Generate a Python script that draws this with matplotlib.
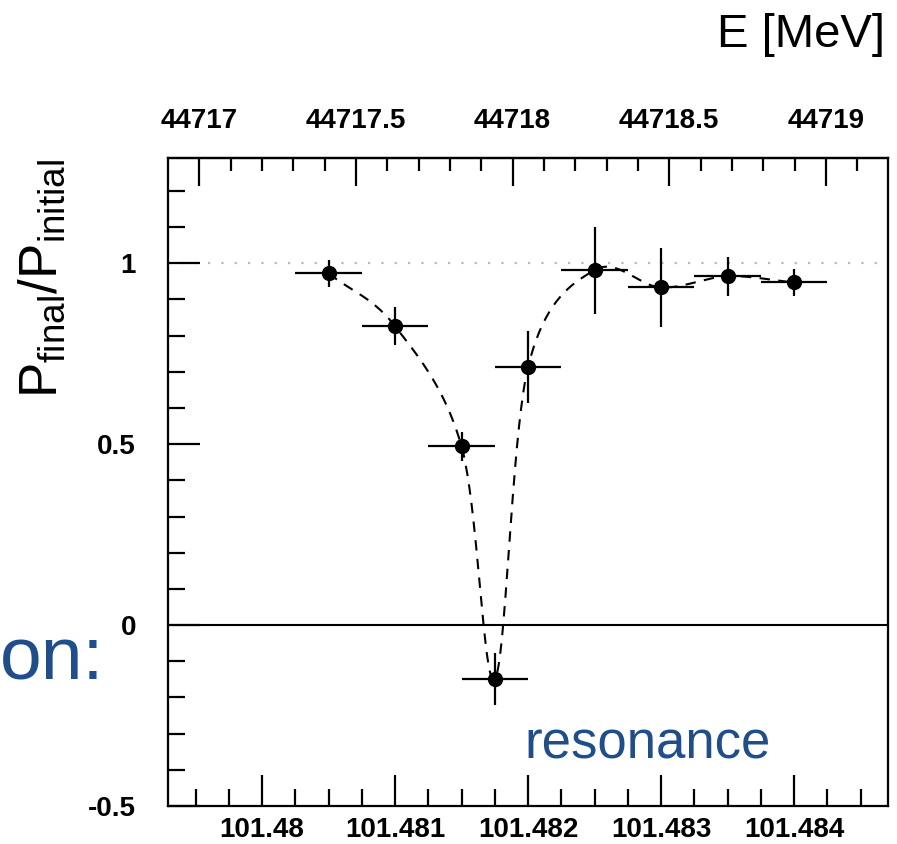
import numpy as np
import matplotlib
matplotlib.use('Agg')
import matplotlib.pyplot as plt
from matplotlib.ticker import MultipleLocator, FixedLocator, FuncFormatter

# spin-flip scan: polarisation ratio vs depolariser frequency
freq = [101.4805, 101.481, 101.4815, 101.48175, 101.482, 101.4825, 101.483, 101.4835, 101.484]
ratio = [0.972, 0.826, 0.494, -0.149, 0.713, 0.981, 0.933, 0.964, 0.947]
ratio_err = [0.038, 0.053, 0.040, 0.072, 0.100, 0.120, 0.109, 0.054, 0.037]
freq_err = [0.00025] * 9

freq_ticks = [101.48, 101.481, 101.482, 101.483, 101.484]
energy_ticks = [44717, 44717.5, 44718, 44718.5, 44719]
ratio_ticks = [-0.5, 0, 0.5, 1]

# energy scale on the top axis (linear in frequency)
E_ref = 44717.2006
f_ref = 101.48
dE_df = 424.4


def to_energy(f):
    return E_ref + dE_df * (np.asarray(f) - f_ref)


def to_freq(e):
    return f_ref + (np.asarray(e) - E_ref) / dE_df


def smooth_curve(x, y, n=40):
    # Catmull-Rom spline through the points, like ROOT's "C" option
    x = np.asarray(x, float)
    y = np.asarray(y, float)
    px = np.concatenate([[2 * x[0] - x[1]], x, [2 * x[-1] - x[-2]]])
    py = np.concatenate([[2 * y[0] - y[1]], y, [2 * y[-1] - y[-2]]])
    xs, ys = [], []
    t = np.linspace(0, 1, n)
    h00 = 2 * t**3 - 3 * t**2 + 1
    h10 = t**3 - 2 * t**2 + t
    h01 = -2 * t**3 + 3 * t**2
    h11 = t**3 - t**2
    for i in range(1, len(px) - 2):
        mx0 = (px[i + 1] - px[i - 1]) / 2
        mx1 = (px[i + 2] - px[i]) / 2
        my0 = (py[i + 1] - py[i - 1]) / 2
        my1 = (py[i + 2] - py[i]) / 2
        xs.append(h00 * px[i] + h10 * mx0 + h01 * px[i + 1] + h11 * mx1)
        ys.append(h00 * py[i] + h10 * my0 + h01 * py[i + 1] + h11 * my1)
    return np.concatenate(xs), np.concatenate(ys)


plt.rcParams['font.family'] = ['Liberation Sans', 'DejaVu Sans']
plt.rcParams['mathtext.fontset'] = 'custom'
plt.rcParams['mathtext.rm'] = 'Liberation Sans'
plt.rcParams['mathtext.it'] = 'Liberation Sans'

fig = plt.figure(figsize=(8.97, 8.44), dpi=100)
ax = fig.add_axes([0.1873, 0.045, 0.8027, 0.7683])

ax.set_xlim(101.479293, 101.484707)
ax.set_ylim(-0.5, 1.292)

ax.axhline(1.0, color='#b8b8b8', lw=1.6, ls=(0, (1, 5)), zorder=1)
ax.axhline(0.0, color='black', lw=1.5, zorder=1)

cx, cy = smooth_curve(freq, ratio)
ax.plot(cx, cy, color='black', lw=1.5, ls=(0, (5, 4)), zorder=2)

ax.errorbar(freq, ratio, xerr=freq_err, yerr=ratio_err, fmt='o', color='black',
            ms=10, elinewidth=1.6, capsize=0, zorder=3)

for sp in ax.spines.values():
    sp.set_linewidth(1.6)

fmt = FuncFormatter(lambda v, p: '%g' % round(v, 6))

ax.xaxis.set_major_locator(FixedLocator(freq_ticks))
ax.xaxis.set_minor_locator(MultipleLocator(0.00025))
ax.xaxis.set_major_formatter(fmt)
ax.yaxis.set_major_locator(FixedLocator(ratio_ticks))
ax.yaxis.set_minor_locator(MultipleLocator(0.1))
ax.yaxis.set_major_formatter(fmt)

ax.tick_params(axis='x', which='both', direction='in', top=False, labelsize=20, pad=8)
ax.tick_params(axis='x', which='major', length=22, width=1.6)
ax.tick_params(axis='x', which='minor', length=12, width=1.6)
ax.tick_params(axis='y', which='both', direction='in', right=False, labelsize=20, pad=23)
ax.tick_params(axis='y', which='major', length=23, width=1.6)
ax.tick_params(axis='y', which='minor', length=12, width=1.6)

top = ax.secondary_xaxis('top', functions=(to_energy, to_freq))
top.xaxis.set_major_locator(FixedLocator(energy_ticks))
top.xaxis.set_minor_locator(MultipleLocator(0.1))
top.xaxis.set_major_formatter(FuncFormatter(lambda v, p: '%g' % round(v, 3)))
top.tick_params(axis='x', which='both', direction='in', labelsize=20, pad=17)
top.tick_params(axis='x', which='major', length=20, width=1.6)
top.tick_params(axis='x', which='minor', length=9, width=1.6)
top.spines['top'].set_linewidth(1.6)

for lbl in ax.get_xticklabels() + ax.get_yticklabels() + top.xaxis.get_ticklabels():
    lbl.set_fontweight('bold')

ax.text(-0.174, 0.997, r'$\mathregular{P_{final}/P_{initial}}$', transform=ax.transAxes,
        rotation=90, ha='center', va='top', fontsize=38)
fig.text(0.987, 0.958, 'E [MeV]', ha='right', va='center', fontsize=34)

fig.text(0.0, 0.218, 'on:', ha='left', va='center', fontsize=54, color='#1f4e8b')
fig.text(0.585, 0.118, 'resonance', ha='left', va='center', fontsize=38, color='#1f4e8b')

fig.savefig('out.png', dpi=100)
